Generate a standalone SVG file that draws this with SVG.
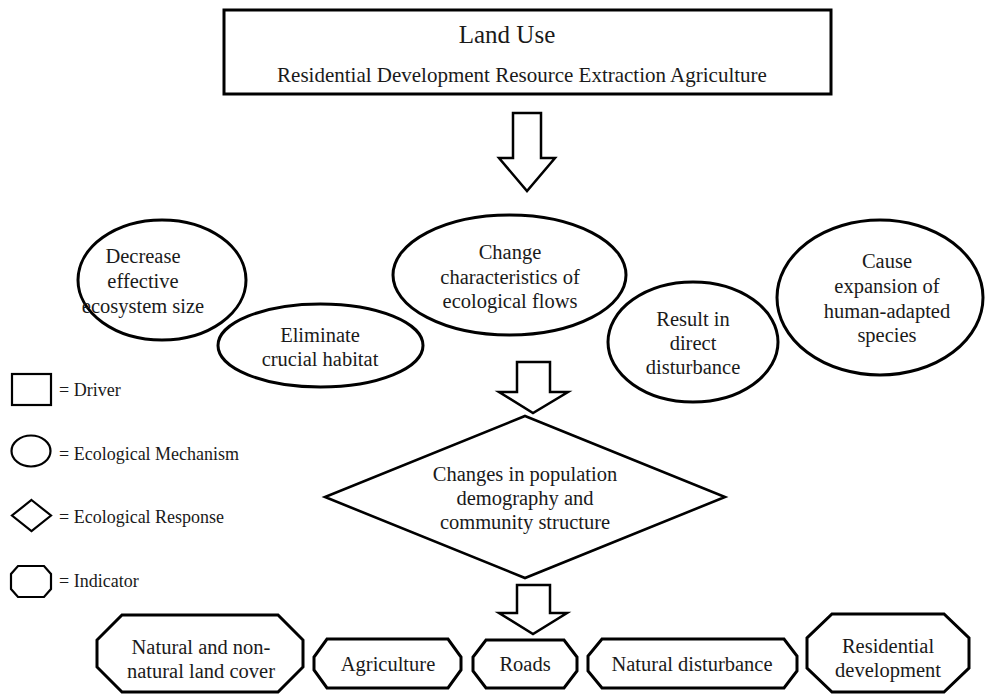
<svg xmlns="http://www.w3.org/2000/svg" width="986" height="696" viewBox="0 0 986 696">
<style>
  text { font-family: "Liberation Serif", "Times New Roman", serif; fill: #1a1a1a; text-anchor: middle; }
  .t { font-size: 20.5px; }
  .lg { font-size: 18px; text-anchor: start; }
  .shape { fill: #fff; stroke: #000; stroke-width: 3; }
  .thin { fill: #fff; stroke: #000; stroke-width: 2.2; }
  .arrow { fill: #fff; stroke: #000; stroke-width: 2.5; stroke-linejoin: miter; }
</style>
<rect width="986" height="696" fill="#fff"/>

<g id="driver-land-use">
  <rect class="shape" x="224" y="10" width="607" height="84"/>
  <text x="507" y="43" style="font-size:25px">Land Use</text>
  <text x="522" y="82" style="font-size:21px">Residential Development Resource Extraction Agriculture</text>
</g>

<g id="connectors">
  <polygon class="arrow" points="513,113 541,113 541,158 555,158 527,191 499,158 513,158"/>
  <polygon class="arrow" points="517,362 550,362 550,392 568,392 533,413 499,392 517,392"/>
  <polygon class="arrow" points="517,585 550,585 550,613 567,613 533,634 499,613 517,613"/>
</g>

<g id="mech-decrease">
  <ellipse class="shape" cx="162" cy="280" rx="84" ry="60"/>
  <text class="t" x="143" y="263">Decrease</text>
  <text class="t" x="143" y="288">effective</text>
  <text class="t" x="143" y="313">ecosystem size</text>
</g>

<g id="mech-eliminate">
  <ellipse class="shape" cx="320.5" cy="345.5" rx="102.5" ry="41.5"/>
  <text class="t" x="320" y="342">Eliminate</text>
  <text class="t" x="320" y="366">crucial habitat</text>
</g>

<g id="mech-change">
  <ellipse class="shape" cx="509.5" cy="275" rx="116.5" ry="60"/>
  <text class="t" x="510" y="259">Change</text>
  <text class="t" x="510" y="284">characteristics of</text>
  <text class="t" x="510" y="308">ecological flows</text>
</g>

<g id="mech-result">
  <ellipse class="shape" cx="693" cy="342" rx="85" ry="60"/>
  <text class="t" x="693" y="326">Result in</text>
  <text class="t" x="693" y="350">direct</text>
  <text class="t" x="693" y="374">disturbance</text>
</g>

<g id="mech-cause">
  <ellipse class="shape" cx="880" cy="297.5" rx="103" ry="77.5"/>
  <text class="t" x="887" y="268">Cause</text>
  <text class="t" x="887" y="293">expansion of</text>
  <text class="t" x="887" y="318">human-adapted</text>
  <text class="t" x="887" y="342">species</text>
</g>

<g id="response">
  <polygon class="thin" points="525,416 725,497 525,578 325,497" style="stroke-width:2.6"/>
  <text class="t" x="525" y="481">Changes in population</text>
  <text class="t" x="525" y="505">demography and</text>
  <text class="t" x="525" y="529">community structure</text>
</g>

<g id="ind-landcover">
  <polygon class="shape" points="122,615 278,615 303,640 303,667 278,692 122,692 97,667 97,640"/>
  <text class="t" x="201" y="654">Natural and non-</text>
  <text class="t" x="201" y="678">natural land cover</text>
</g>

<g id="ind-agriculture">
  <polygon class="shape" points="327,639 448,639 461,657 461,670 448,688 327,688 314,670 314,657"/>
  <text class="t" x="388" y="671">Agriculture</text>
</g>

<g id="ind-roads">
  <polygon class="shape" points="486,640 564,640 577,657 577,671 564,688 486,688 473,671 473,657"/>
  <text class="t" x="525" y="671">Roads</text>
</g>

<g id="ind-disturbance">
  <polygon class="shape" points="602,639 784,639 797,656 797,671 784,688 602,688 588,671 588,656"/>
  <text class="t" x="692" y="671">Natural disturbance</text>
</g>

<g id="ind-residential">
  <polygon class="shape" points="832,614 944,614 969,638 969,668 944,692 832,692 807,668 807,638"/>
  <text class="t" x="888" y="653">Residential</text>
  <text class="t" x="888" y="677">development</text>
</g>

<g id="legend-driver">
  <rect class="thin" x="12" y="374" width="39" height="31"/>
  <text class="lg" x="59" y="396">= Driver</text>
</g>
<g id="legend-mechanism">
  <ellipse class="thin" cx="31" cy="451" rx="19.5" ry="15.5"/>
  <text class="lg" x="59" y="460">= Ecological Mechanism</text>
</g>
<g id="legend-response">
  <polygon class="thin" points="31.5,500 51,515.5 31.5,531 12,515.5"/>
  <text class="lg" x="59" y="523">= Ecological Response</text>
</g>
<g id="legend-indicator">
  <polygon class="thin" points="18,566 44,566 51,574 51,589 44,597 18,597 11,589 11,574"/>
  <text class="lg" x="59" y="587">= Indicator</text>
</g>
</svg>
